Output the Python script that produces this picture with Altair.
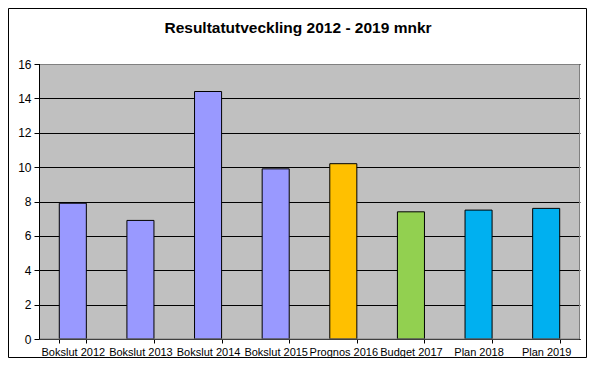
import altair as alt
import pandas as pd

categories = ["Bokslut 2012", "Bokslut 2013", "Bokslut 2014", "Bokslut 2015",
              "Prognos 2016", "Budget 2017", "Plan 2018", "Plan 2019"]
values = [7.9, 6.9, 14.4, 9.9, 10.2, 7.4, 7.5, 7.6]
bar_colors = ["#9999FF", "#9999FF", "#9999FF", "#9999FF",
              "#FFC000", "#92D050", "#00B0F0", "#00B0F0"]
y_ticks = [0, 2, 4, 6, 8, 10, 12, 14, 16]
title_text = "Resultatutveckling 2012 - 2019 mnkr"

df = pd.DataFrame({"kategori": categories, "varde": values})

W, H = 541, 275
PAD_L, PAD_T, PAD_R, PAD_B = 31, 56, 7, 19
FONT = "Liberation Sans"

bars = alt.Chart(df).mark_bar(stroke="black", strokeWidth=1).encode(
    x=alt.X("kategori:N", sort=categories, title=None,
            scale=alt.Scale(paddingInner=0.6, paddingOuter=0.3),
            axis=alt.Axis(labelAngle=0, tickBand="extent", domainColor="black",
                          tickColor="black", tickSize=4, labelPadding=3,
                          labelFontSize=11, labelFont=FONT, labelColor="black",
                          grid=False)),
    y=alt.Y("varde:Q", title=None,
            scale=alt.Scale(domain=[0, 16], nice=False),
            axis=alt.Axis(values=y_ticks, grid=True, gridColor="black",
                          gridOpacity=1, gridWidth=1, domainColor="black",
                          tickColor="black", tickSize=5, labelPadding=3,
                          labelFontSize=12, labelFont=FONT, labelColor="black")),
    color=alt.Color("kategori:N", sort=categories,
                    scale=alt.Scale(domain=categories, range=bar_colors),
                    legend=None),
)

one = alt.Data(values=[{}])

plot_border = alt.Chart(one).mark_rect(fill=None, stroke="#808080", strokeWidth=1).encode(
    x=alt.value(0.5), x2=alt.value(W - 0.5), y=alt.value(0.5), y2=alt.value(H))

left_line = alt.Chart(one).mark_rule(color="black", strokeWidth=1).encode(
    x=alt.value(0.5), y=alt.value(0), y2=alt.value(H))

frame = alt.Chart(one).mark_rect(fill=None, stroke="black", strokeWidth=1).encode(
    x=alt.value(-PAD_L + 0.5), x2=alt.value(W + PAD_R - 0.5),
    y=alt.value(-PAD_T + 0.5), y2=alt.value(H + PAD_B - 0.5))

title = alt.Chart(one).mark_text(fontSize=15.5, fontWeight="bold", font=FONT,
                                 color="black", align="center",
                                 baseline="alphabetic").encode(
    x=alt.value(259), y=alt.value(-31), text=alt.value(title_text))

chart = alt.layer(bars, plot_border, left_line, frame, title).properties(
    width=W, height=H,
    autosize=alt.AutoSizeParams(type="none"),
    padding={"left": PAD_L, "top": PAD_T, "right": PAD_R, "bottom": PAD_B},
    background="white",
).configure_view(fill="#C0C0C0", stroke=None)

chart.save("out.html", embed_options={"renderer": "svg", "actions": False})
